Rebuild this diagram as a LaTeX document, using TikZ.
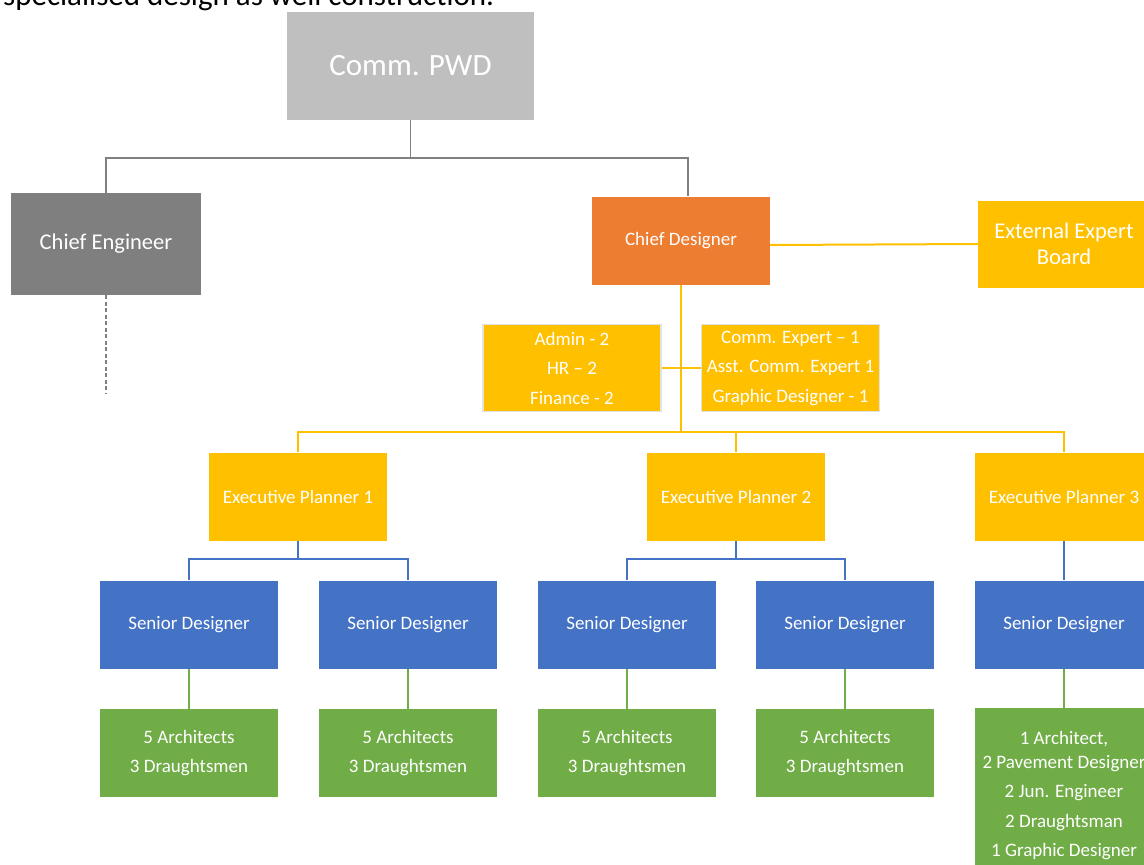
\documentclass[tikz,border=0pt]{standalone}
\usepackage{fontspec}
\setmainfont{Carlito}
\definecolor{boxgray}{HTML}{BFBFBF}
\definecolor{darkgray}{HTML}{7F7F7F}
\definecolor{linegray}{HTML}{808080}
\definecolor{orng}{HTML}{ED7D31}
\definecolor{ylw}{HTML}{FFC000}
\definecolor{blu}{HTML}{4472C4}
\definecolor{grn}{HTML}{70AD47}
\definecolor{rim}{HTML}{E2E2E2}
\tikzset{
  box/.style={rectangle, inner sep=0pt, text=white, align=center,
    minimum width=178pt, minimum height=88pt,
    font=\fontsize{19}{29.5}\selectfont},
  ylwbox/.style={box, fill=ylw},
  blubox/.style={box, fill=blu},
  grnbox/.style={box, fill=grn},
  staffbox/.style={ylwbox, draw=rim, line width=1.5pt, minimum width=178pt, minimum height=87pt},
  grayline/.style={draw=linegray, line width=1.4pt},
  ylwline/.style={draw=ylw, line width=2pt},
  bluline/.style={draw=blu, line width=1.4pt},
  grnline/.style={draw=grn, line width=1.4pt}
}
\begin{document}
\begin{tikzpicture}[x=1pt,y=-1pt]
\useasboundingbox (0,0) rectangle (1144,865);
\clip (0,0) rectangle (1144,865);
\fill[white] (0,0) rectangle (1144,865);

% top cut-off text
\node[anchor=base west, inner sep=0pt, font=\fontsize{31}{38}\selectfont, text=black] (toptext) at (3,5) {specialised design as well construction.};

% nodes
\node[box, fill=boxgray, minimum width=247pt, minimum height=108pt, font=\fontsize{31}{36}\selectfont] (pwd) at (410.5,66) {Comm. PWD};
\node[box, fill=darkgray, minimum width=190pt, minimum height=102pt, font=\fontsize{22.5}{27}\selectfont] (ce) at (106,244) {Chief Engineer};
\node[box, fill=orng] (cd) at (681,241) {Chief Designer};
\node[ylwbox, minimum width=172pt, minimum height=87pt, font=\fontsize{22.5}{26}\selectfont] (eeb) at (1064,244) {External Expert\\Board};

\node[staffbox] (adm) at (572,368) {Admin - 2\\HR -- 2\\Finance - 2};
\node[staffbox] (com) at (790.5,368) {Comm. Expert -- 1\\Asst. Comm. Expert 1\\Graphic Designer - 1};

\node[ylwbox] (ep1) at (298,496.5) {Executive Planner 1};
\node[ylwbox] (ep2) at (736,496.5) {Executive Planner 2};
\node[ylwbox] (ep3) at (1064,496.5) {Executive Planner 3};

\node[blubox] (sd1) at (189,624.5) {Senior Designer};
\node[blubox] (sd2) at (408,624.5) {Senior Designer};
\node[blubox] (sd3) at (627,624.5) {Senior Designer};
\node[blubox] (sd4) at (845,624.5) {Senior Designer};
\node[blubox] (sd5) at (1064,624.5) {Senior Designer};

\node[grnbox] (gr1) at (189,753) {5 Architects\\3 Draughtsmen};
\node[grnbox] (gr2) at (408,753) {5 Architects\\3 Draughtsmen};
\node[grnbox] (gr3) at (627,753) {5 Architects\\3 Draughtsmen};
\node[grnbox] (gr4) at (845,753) {5 Architects\\3 Draughtsmen};
\node[grnbox, minimum height=176pt] (gr5) at (1064,796) {1 Architect,\\[-6pt]2 Pavement Designer\\2 Jun. Engineer\\2 Draughtsman\\1 Graphic Designer};

% junction coordinates
\coordinate (j0) at (410.5,158);
\coordinate (cdin) at (688,196);
\coordinate (ceend) at (106,393);
\coordinate (j1) at (681,432);
\coordinate (j2) at (298,559);
\coordinate (j3) at (736,559);

% connectors
\draw[grayline] (pwd.south) -- (j0);
\draw[grayline] (ce.north) |- (j0) -| (cdin);
\draw[grayline, dashed, dash pattern=on 4pt off 2.5pt] (ce.south) -- (ceend);

\draw[ylwline] ([yshift=-4pt]cd.east) -- (eeb.west);
\draw[ylwline] (cd.south) -- (j1);
\draw[ylwline] (adm.east) -- (com.west);
\draw[ylwline] (ep1.north) |- (j1) -| (ep3.north);
\draw[ylwline] (j1) -| (ep2.north);

\draw[bluline] (ep1.south) -- (j2);
\draw[bluline] (sd1.north) |- (j2) -| (sd2.north);
\draw[bluline] (ep2.south) -- (j3);
\draw[bluline] (sd3.north) |- (j3) -| (sd4.north);
\draw[bluline] (ep3.south) -- (sd5.north);

\draw[grnline] (sd1.south) -- (gr1.north);
\draw[grnline] (sd2.south) -- (gr2.north);
\draw[grnline] (sd3.south) -- (gr3.north);
\draw[grnline] (sd4.south) -- (gr4.north);
\draw[grnline] (sd5.south) -- (gr5.north);
\end{tikzpicture}
\end{document}
